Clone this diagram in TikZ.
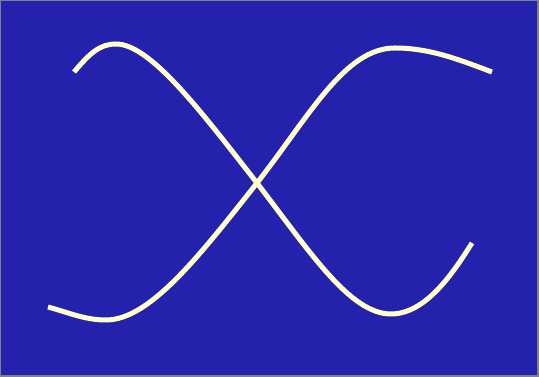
\documentclass[tikz,border=0pt]{standalone}
\usepackage{tikz}
\definecolor{PanelBlue}{RGB}{36,34,172}
\definecolor{WireCream}{RGB}{255,255,204}
\definecolor{EdgeGray}{RGB}{128,128,136}

\begin{document}
\begin{tikzpicture}[
      x=0.02cm,y=-0.02cm,
      wire/.style={draw=WireCream,line width=0.1cm},
      panel/.style={fill=PanelBlue,draw=EdgeGray,line width=0.03cm}
    ]
      \useasboundingbox (0,0) rectangle (539,377);
      \path[panel] (0.75,0.75) rectangle (538.25,376.25);

      % falling wire
      \draw[wire] (74,72) .. controls (90,53) and (100,44) .. (116,44)
        .. controls (150,44) and (200,110) .. (257,183)
        .. controls (310,252) and (350,314) .. (391,314)
        .. controls (425,314) and (452,275) .. (472,243);
      % rising wire
      \draw[wire] (48,307) .. controls (70,313) and (85,320) .. (106,320)
        .. controls (150,320) and (200,255) .. (257,183)
        .. controls (310,115) and (345,48) .. (395,48)
        .. controls (430,48) and (460,60) .. (492,72);
    \end{tikzpicture}
\end{document}
